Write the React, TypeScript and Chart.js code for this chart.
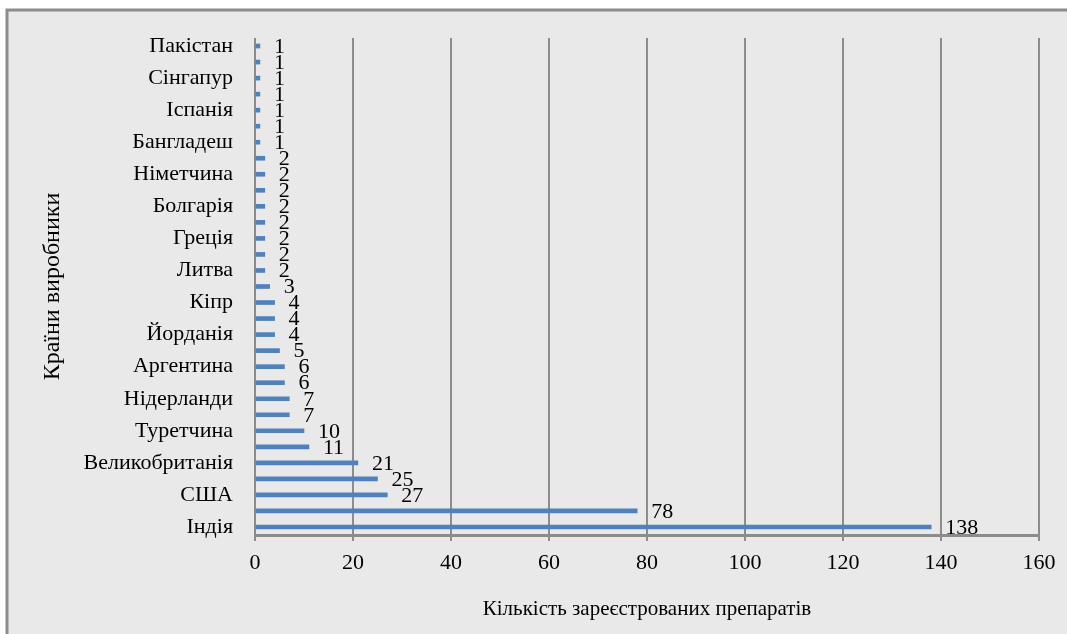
import React, { useEffect, useRef } from "react";
import { Chart, registerables } from "chart.js";

Chart.register(...registerables);

const categories = [
  "Індія", "Китай", "США", "Швейцарія", "Великобританія", "Словенія",
  "Туретчина", "Італія", "Нідерланди", "Угорщина", "Аргентина", "Австрія",
  "Йорданія", "Корея", "Кіпр", "Франція", "Литва", "Латвія", "Греція",
  "Хорватія", "Болгарія", "Румунія", "Німетчина", "Польща", "Бангладеш",
  "Єгипет", "Іспанія", "Чехія", "Сінгапур", "Малайзія", "Пакістан",
];

const counts = [
  138, 78, 27, 25, 21, 11, 10, 7, 7, 6, 6, 5, 4, 4, 4, 3, 2, 2, 2, 2, 2, 2, 2, 2,
  1, 1, 1, 1, 1, 1, 1,
];

const xTicks = [0, 20, 40, 60, 80, 100, 120, 140, 160];

const FONT = "'Liberation Serif', 'Times New Roman', serif";
const GRAY = "#8c8c8c";

const framePlugin = {
  id: "frame",
  beforeDraw(chart: any) {
    const ctx = chart.ctx;
    const w = chart.width;
    const h = chart.height;
    ctx.save();
    ctx.fillStyle = "#ffffff";
    ctx.fillRect(0, 0, w, h);
    ctx.fillStyle = "#e9e9e9";
    ctx.fillRect(7, 10, w, h);
    ctx.strokeStyle = GRAY;
    ctx.lineWidth = 3;
    ctx.beginPath();
    ctx.moveTo(5.5, 10);
    ctx.lineTo(w, 10);
    ctx.moveTo(7, 8.5);
    ctx.lineTo(7, h);
    ctx.stroke();
    ctx.restore();
  },
};

const valueLabelPlugin = {
  id: "valueLabels",
  afterDatasetsDraw(chart: any) {
    const ctx = chart.ctx;
    const meta = chart.getDatasetMeta(0);
    const data = chart.data.datasets[0].data;
    ctx.save();
    ctx.font = `22px ${FONT}`;
    ctx.fillStyle = "#000000";
    ctx.textAlign = "left";
    ctx.textBaseline = "middle";
    meta.data.forEach((bar: any, i: number) => {
      ctx.fillText(String(data[i]), bar.x + 14, bar.y + 1);
    });
    ctx.restore();
  },
};

export default function App() {
  const ref = useRef<HTMLCanvasElement | null>(null);

  useEffect(() => {
    if (!ref.current) return;
    const chart = new Chart(ref.current, {
      type: "bar",
      data: {
        labels: categories,
        datasets: [
          {
            data: counts,
            backgroundColor: "#4f81bd",
            barThickness: 4,
          },
        ],
      },
      options: {
        indexAxis: "y",
        animation: false,
        responsive: true,
        maintainAspectRatio: false,
        devicePixelRatio: 1,
        layout: { padding: { left: 0, top: 38, right: 28, bottom: 0 } },
        plugins: {
          legend: { display: false },
          tooltip: { enabled: false },
        },
        scales: {
          x: {
            type: "linear",
            min: 0,
            max: 160,
            afterBuildTicks(scale: any) {
              scale.ticks = xTicks.map((v) => ({ value: v }));
            },
            afterFit(scale: any) {
              scale.height = 99;
            },
            grid: {
              color: GRAY,
              lineWidth: 2,
              tickLength: 6,
              drawTicks: true,
            },
            border: { display: true, color: GRAY, width: 3 },
            ticks: {
              color: "#000",
              font: { family: FONT, size: 22 },
              padding: 9,
              maxRotation: 0,
            },
            title: {
              display: true,
              text: "Кількість зареєстрованих препаратів",
              color: "#000",
              font: { family: FONT, size: 21 },
              padding: { top: 0, bottom: 12 },
            },
          },
          y: {
            reverse: true,
            afterFit(scale: any) {
              scale.width = 255;
            },
            grid: { display: false, drawTicks: false },
            border: { display: false },
            ticks: {
              autoSkip: false,
              color: "#000",
              font: { family: FONT, size: 22 },
              padding: 22,
              callback(this: any, value: any, index: number) {
                return index % 2 === 0 ? this.getLabelForValue(value) : "";
              },
            },
            title: {
              display: true,
              text: "Країни виробники",
              color: "#000",
              font: { family: FONT, size: 24 },
              padding: { top: 38, bottom: 0 },
            },
          },
        },
      },
      plugins: [framePlugin, valueLabelPlugin],
    });
    return () => chart.destroy();
  }, []);

  return (
    <div
      style={{
        position: "absolute",
        left: 0,
        top: 0,
        width: "1067px",
        height: "634px",
      }}
    >
      <canvas ref={ref} />
    </div>
  );
}
